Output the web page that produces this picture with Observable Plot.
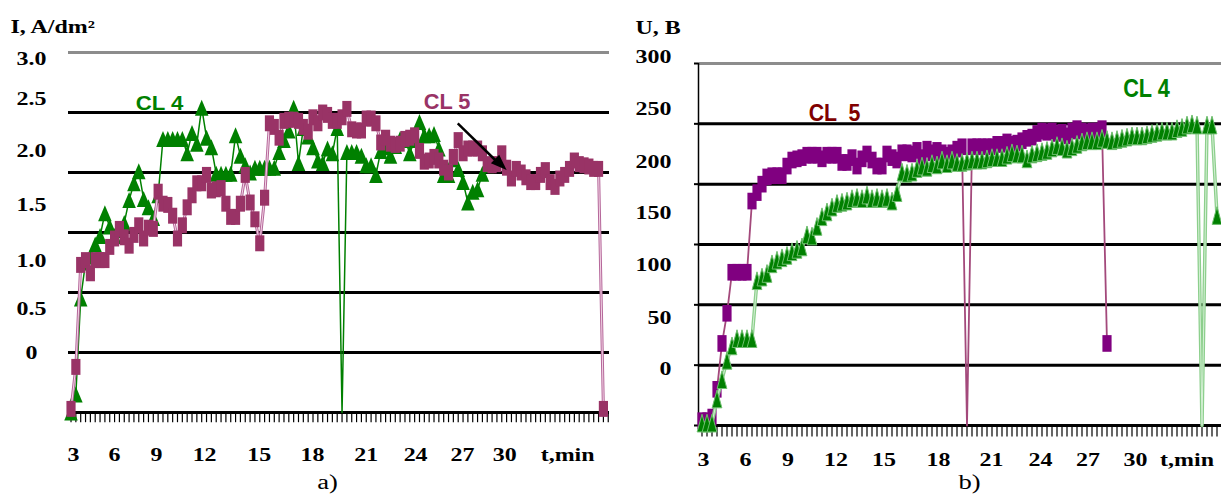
<!DOCTYPE html>
<html><head><meta charset="utf-8">
<script src="https://cdn.jsdelivr.net/npm/d3@7"></script>
<script src="https://cdn.jsdelivr.net/npm/@observablehq/plot@0.6"></script>
<style>
html,body{margin:0;padding:0;background:#fff;}
#wrap{display:flex;width:1221px;height:495px;overflow:hidden;}
#wrap svg{display:block;flex:none;overflow:visible;}
</style></head><body><div id="wrap"></div>
<script>
// ---------------- data (panel a: current density; panel b: voltage) ----------------
const cl4_a = [0.00,0.15,0.95,1.25,1.30,1.40,1.47,1.66,1.55,1.47,
1.52,1.58,1.77,1.91,2.01,1.78,1.71,1.62,1.81,2.28,
2.28,2.28,2.28,2.28,2.16,2.33,2.24,2.54,2.29,2.21,
1.99,1.99,1.99,1.99,2.31,2.14,2.06,2.00,2.04,2.04,
2.04,2.04,2.04,2.17,2.27,2.35,2.54,2.08,2.37,2.30,
2.21,2.10,2.08,2.20,2.16,2.37,0.00,2.17,2.17,2.17,
2.14,2.06,2.06,1.98,2.18,2.21,2.14,2.22,2.28,2.27,
2.16,2.27,2.42,2.31,2.31,2.32,2.20,1.98,1.98,2.11,
2.03,1.92,1.75,1.84,1.86,1.99,2.06];
const cl5_a = [0.03,0.38,1.23,1.27,1.16,1.27,1.27,1.27,1.38,1.45,
1.53,1.46,1.39,1.48,1.56,1.45,1.54,1.53,1.84,1.74,
1.73,1.64,1.45,1.56,1.71,1.81,1.91,1.91,1.98,1.85,
1.86,1.87,1.74,1.63,1.63,1.74,1.98,1.75,1.61,1.41,
1.79,2.41,2.38,2.29,2.43,2.44,2.44,2.43,2.38,2.34,
2.46,2.41,2.50,2.48,2.43,2.43,2.46,2.53,2.36,2.35,
2.35,2.45,2.45,2.41,2.25,2.29,2.24,2.23,2.24,2.28,
2.29,2.31,2.18,2.09,2.10,2.13,2.10,2.04,2.00,2.13,
2.27,2.16,2.20,2.20,2.20,2.16,2.07,2.06,2.07,2.16,
2.04,1.95,2.03,2.00,1.96,1.92,1.92,1.98,2.02,1.92,
1.88,1.95,1.98,2.03,2.10,2.07,2.06,2.05,2.03,2.03,0.03];
const cl5_b = [4,4,7,30,68,93,127,127,127,127,
186,193,200,206,207,207,207,215,220,221,
222,224,224,224,221,224,224,224,218,218,
222,215,221,225,220,215,215,225,222,220,
226,226,225,228,222,229,226,228,226,224,
226,229,231,0,231,231,231,231,231,233,
233,235,233,234,236,238,239,242,244,243,
244,242,243,240,244,246,244,243,244,244,
246,68];
const cl4_b = [2,2,2,22,38,54,66,72,72,72,
72,120,123,126,134,137,139,141,144,146,
148,158,157,165,173,177,181,184,185,186,
188,189,188,191,188,189,188,189,186,193,
210,209,210,213,215,214,217,216,220,217,
220,218,218,219,220,220,220,221,222,222,
222,224,226,225,225,221,225,226,227,228,
230,232,231,229,231,233,235,236,236,236,
238,237,236,237,238,239,240,240,240,241,
242,243,244,244,244,246,247,249,250,249,
0,249,249,174];

const grid_a = [0,0.5,1,1.5,2,2.5,3];
const grid_b = [0,50,100,150,200,250,300];
const yLabels_a = ["3.0","2.5","2.0","1.5","1.0","0.5","0"];
const yLabelPos_a = [2.94,2.61,2.18,1.73,1.26,0.86,0.49];
const yLabels_b = ["300","250","200","150","100","50","0"];
const yLabelPos_b = [305,262,218,176,133,89,47];
const xLabels = ["3","6","9","12","15","18","21","24","27","30","t,min"];
const xLabelPos_a = [0.52,8.99,17.67,27.6,38.9,49.9,61.0,71.2,80.9,89.6,102.6];
const xLabelPos_b = [0.3,8.7,17.2,26.8,36.4,47.3,57.9,67.7,77.2,86.7,97.0];
const xDom_a = [-0.52, 111.26];
const xDom_b = [-0.7, 103.9];

// ---------------- symbols (Plot hands the symbol a size of r²) ----------------
const triSym = kw => ({draw(c, s){ const r = Math.sqrt(s), w = r*kw; c.moveTo(0,-r); c.lineTo(w/2,r); c.lineTo(-w/2,r); c.closePath(); }});
const rectSym = kw => ({draw(c, s){ const r = Math.sqrt(s), w = r*kw; c.rect(-w/2,-r,w,2*r); }});
const headSym = {draw(c){ c.moveTo(0,0); c.lineTo(6,16); c.lineTo(-6,16); c.closePath(); }};

const serif = "Liberation Serif, Times New Roman, serif";
const sans = "Liberation Sans, Arial, sans-serif";
const X = (d,i) => i;
const shown = (d,i) => d > 0 || i === 0;   // dips below the axis carry no visible marker

// ---------------- panel a ----------------
const plotA = Plot.plot({
  width: 615, height: 495,
  marginLeft: 68, marginRight: 6, marginTop: 52, marginBottom: 83,
  x: {domain: xDom_a, axis: null},
  y: {domain: [0,3], axis: null},
  marks: [
    Plot.ruleY(grid_a, {y: d => d, stroke: d => d === 3 ? "#8c8c8c" : "#000", strokeWidth: 3}),
    Plot.ruleX(d3.range(0, 112), {x: d => d, y1: -0.013, y2: -0.085, stroke: "#000", strokeWidth: 1.2}),
    Plot.line(cl4_a, {x: X, y: d => d, stroke: "#008000", strokeWidth: 1.5}),
    Plot.dot(cl4_a, {x: X, y: d => d, filter: shown, symbol: triSym(1.7), r: 4.5, fill: "#008000", stroke: "none"}),
    Plot.line(cl5_a, {x: X, y: d => d, stroke: "#b5679a", strokeWidth: 3}),
    Plot.line(cl5_a, {x: X, y: d => d, stroke: "#f3d6e6", strokeWidth: 1}),
    Plot.dot(cl5_a, {x: X, y: d => d, filter: shown, symbol: rectSym(1.15), r: 4.5, fill: "#993366", stroke: "none"}),
    Plot.link([0], {x1: 79.9, y1: 2.41, x2: 87.75, y2: 2.10, stroke: "#000", strokeWidth: 2.5}),
    Plot.dot([0], {x: 90.0, y: 2.02, symbol: headSym, r: 5, fill: "#000", stroke: "none", rotate: 133.8}),
    Plot.text(["CL 4"], {x: 18.29, y: 2.58, fontFamily: sans, fontWeight: "bold", fontSize: 21, fill: "#008000", lineAnchor: "middle"}),
    Plot.text(["CL 5"], {x: 77.7, y: 2.59, fontFamily: sans, fontWeight: "bold", fontSize: 22, fill: "#993366", lineAnchor: "middle"}),
    Plot.text(yLabels_a, {y: (d,i) => yLabelPos_a[i], text: d => d, frameAnchor: "left", dx: -37, textAnchor: "middle", lineAnchor: "middle", fontFamily: serif, fontWeight: "bold", fontSize: 18, fill: "#000"}),
    Plot.text(xLabels, {x: (d,i) => xLabelPos_a[i], text: d => d, frameAnchor: "bottom", dy: 43, textAnchor: "middle", lineAnchor: "middle", fontFamily: serif, fontWeight: "bold", fontSize: 18, fill: "#000"}),
    Plot.text(["I, A/dm²"], {frameAnchor: "top-left", dx: -58, dy: -25, textAnchor: "start", lineAnchor: "middle", fontFamily: serif, fontWeight: "bold", fontSize: 18, fill: "#000"}),
    Plot.text(["a)"], {frameAnchor: "bottom", dx: -11.5, dy: 69.6, textAnchor: "middle", lineAnchor: "middle", fontFamily: serif, fontSize: 20, fill: "#000"})
  ]
});

// ---------------- panel b ----------------
const plotB = Plot.plot({
  width: 606, height: 495,
  marginLeft: 83, marginRight: 0, marginTop: 63, marginBottom: 70,
  x: {domain: xDom_b, axis: null},
  y: {domain: [0,300], axis: null},
  marks: [
    Plot.ruleY(grid_b, {y: d => d, stroke: d => d === 300 ? "#8c8c8c" : "#000", strokeWidth: 3}),
    Plot.ruleY(grid_b, {y: d => d, x1: xDom_b[0] - 0.8, x2: xDom_b[0], stroke: "#000", strokeWidth: 2}),
    Plot.ruleX([xDom_b[0]], {x: d => d, y1: 0, y2: 300, stroke: "#000", strokeWidth: 1.5}),
    Plot.ruleX(d3.range(0, 104), {x: d => d, y1: -1.3, y2: -9.5, stroke: "#000", strokeWidth: 1.2}),
    Plot.line(cl5_b, {x: X, y: d => d, stroke: "#a3497b", strokeWidth: 1.8}),
    Plot.dot(cl5_b, {x: X, y: d => d, filter: shown, symbol: rectSym(1.1), r: 4.7, fill: "#800080", stroke: "none"}),
    Plot.line(cl4_b, {x: X, y: d => d, stroke: "#8ccf8c", strokeWidth: 3.5}),
    Plot.line(cl4_b, {x: X, y: d => d, stroke: "#d6f0d6", strokeWidth: 1}),
    Plot.dot(cl4_b, {x: X, y: d => d, filter: shown, symbol: triSym(1.1), r: 5, fill: "#008000", stroke: "#6fbf6f", strokeWidth: 1}),
    Plot.text(["CL  5"], {x: 26.5, y: 258.6, fontFamily: sans, fontWeight: "bold", fontSize: 24, fill: "#800000", lineAnchor: "middle"}),
    Plot.text(["CL 4"], {x: 88.9, y: 278.7, fontFamily: sans, fontWeight: "bold", fontSize: 25, fill: "#008000", lineAnchor: "middle"}),
    Plot.text(yLabels_b, {y: (d,i) => yLabelPos_b[i], text: d => d, frameAnchor: "left", dx: -27, textAnchor: "end", lineAnchor: "middle", fontFamily: serif, fontWeight: "bold", fontSize: 18, fill: "#000"}),
    Plot.text(xLabels, {x: (d,i) => xLabelPos_b[i], text: d => d, frameAnchor: "bottom", dy: 35, textAnchor: "middle", lineAnchor: "middle", fontFamily: serif, fontWeight: "bold", fontSize: 18, fill: "#000"}),
    Plot.text(["U, B"], {frameAnchor: "top-left", dx: -63, dy: -35.5, textAnchor: "start", lineAnchor: "middle", fontFamily: serif, fontWeight: "bold", fontSize: 18, fill: "#000"}),
    Plot.text(["b)"], {frameAnchor: "bottom", dx: 9.5, dy: 56.6, textAnchor: "middle", lineAnchor: "middle", fontFamily: serif, fontSize: 20, fill: "#000"})
  ]
});

const wrap = document.getElementById("wrap");
wrap.appendChild(plotA);
wrap.appendChild(plotB);

// widen the serif glyphs like the reference (its text is horizontally stretched)
function stretch(svg, widths) {
  svg.querySelectorAll("text").forEach(t => {
    const holder = t.closest("[font-family]");
    const fam = holder ? holder.getAttribute("font-family") : "";
    const L = t.getComputedTextLength();
    if (!L) return;
    const txt = t.textContent;
    let target = null;
    if (widths[txt] != null) target = widths[txt];
    else if (fam.indexOf("Serif") >= 0) target = L * 1.33;
    if (target) { t.setAttribute("textLength", target); t.setAttribute("lengthAdjust", "spacingAndGlyphs"); }
  });
}
stretch(plotA, {"CL 4": 47.7, "CL 5": 46.7});
stretch(plotB, {"CL  5": 51.7, "CL 4": 46.6});
</script></body></html>
